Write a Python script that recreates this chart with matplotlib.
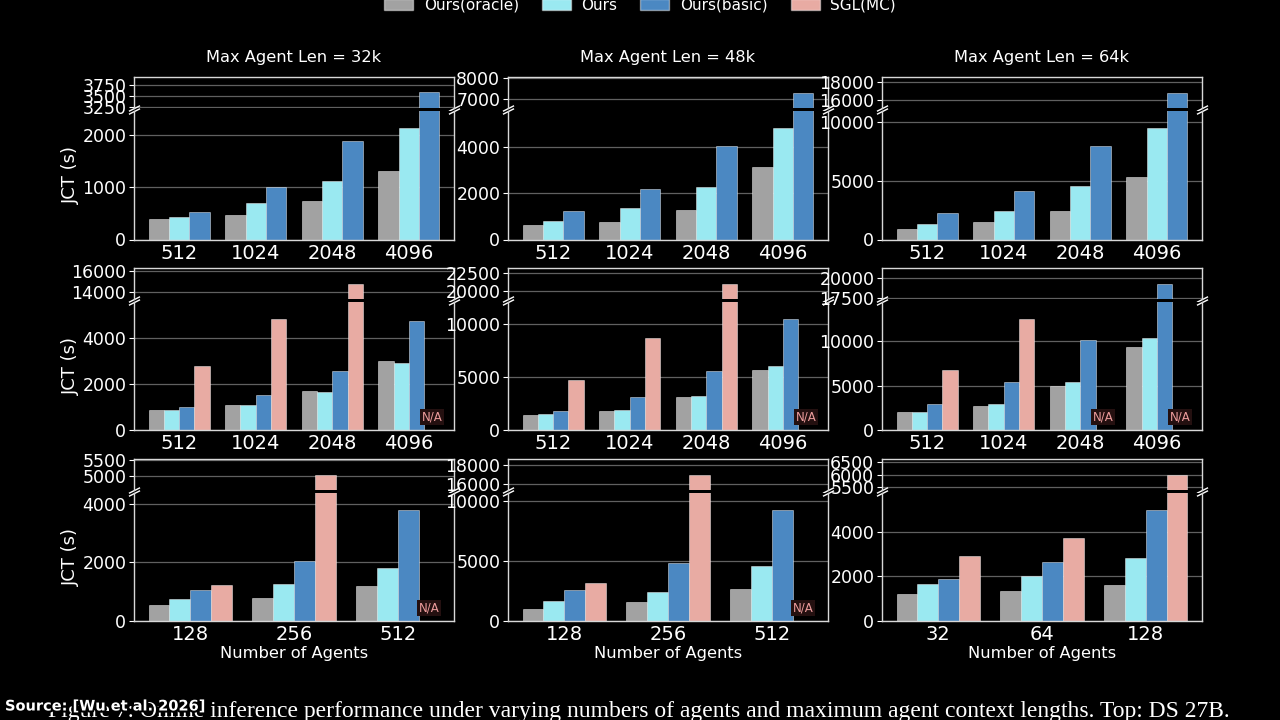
import numpy as np
import matplotlib
matplotlib.use("Agg")
import matplotlib.pyplot as plt
import matplotlib.patheffects as pe
from matplotlib.patches import Patch
from matplotlib.transforms import blended_transform_factory

series = ["Ours(oracle)", "Ours", "Ours(basic)", "SGL(MC)"]
colors = ["#a2a2a2", "#9ae9f1", "#4b88c2", "#e8aba3"]
col_titles = ["Max Agent Len = 32k", "Max Agent Len = 48k", "Max Agent Len = 64k"]

NA = np.nan

# x categories (number of agents)
agents_top = ["512", "1024", "2048", "4096"]
agents_mid = ["512", "1024", "2048", "4096"]
agents_bot_32k = ["128", "256", "512"]
agents_bot_48k = ["128", "256", "512"]
agents_bot_64k = ["32", "64", "128"]

# JCT (s); rows = Ours(oracle), Ours, Ours(basic)[, SGL(MC)]
jct_top_32k = [[390, 460, 740, 1310], [420, 690, 1120, 2130], [520, 1000, 1880, 3580]]
jct_top_48k = [[630, 760, 1260, 3150], [800, 1340, 2280, 4830], [1230, 2190, 4040, 7310]]
jct_top_64k = [[890, 1490, 2440, 5320], [1290, 2440, 4540, 9510], [2240, 4140, 7930, 16850]]

jct_mid_32k = [[880, 1100, 1680, 3020], [880, 1100, 1650, 2900], [990, 1530, 2560, 4730], [2770, 4850, 14850, NA]]
jct_mid_48k = [[1450, 1800, 3060, 5680], [1480, 1890, 3220, 5990], [1830, 3120, 5580, 10470], [4700, 8680, 21050, NA]]
jct_mid_64k = [[2000, 2720, 4980, 9360], [2080, 2980, 5430, 10380], [2910, 5400, 10080, 19330], [6790, 12530, NA, NA]]

jct_bot_32k = [[540, 780, 1190], [760, 1250, 1800], [1040, 2030, 3790], [1240, 5040, NA]]
jct_bot_48k = [[1030, 1560, 2680], [1680, 2430, 4550], [2600, 4860, 9250], [3130, 17000, NA]]
jct_bot_64k = [[1230, 1350, 1620], [1670, 2030, 2830], [1880, 2650, 4980], [2900, 3730, 6000]]

# tick values of the upper (broken) and lower part of each panel
ticks_hi = [[[3250, 3500, 3750], [7000, 8000], [16000, 18000]],
            [[14000, 16000], [20000, 22500], [17500, 20000]],
            [[5000, 5500], [16000, 18000], [5500, 6000, 6500]]]
ticks_lo = [[[0, 1000, 2000], [0, 2000, 4000], [0, 5000, 10000]],
            [[0, 2000, 4000], [0, 5000, 10000], [0, 5000, 10000]],
            [[0, 2000, 4000], [0, 5000, 10000], [0, 2000, 4000]]]

panels = [[(agents_top, jct_top_32k), (agents_top, jct_top_48k), (agents_top, jct_top_64k)],
          [(agents_mid, jct_mid_32k), (agents_mid, jct_mid_48k), (agents_mid, jct_mid_64k)],
          [(agents_bot_32k, jct_bot_32k), (agents_bot_48k, jct_bot_48k), (agents_bot_64k, jct_bot_64k)]]

W, H = 1280, 720
FG = "white"
SPINE = "#d8d8d8"
GRID = "#606060"

plt.rcParams["font.family"] = "DejaVu Sans"
fig = plt.figure(figsize=(12.8, 7.2), dpi=100, facecolor="black")

col_left = [134, 508, 882]
col_w = 320
row_top = [77, 268, 459]
row_bot = [239.5, 430, 621]
hi_h = 31
gap = 3


def px_axes(x0, y0, x1, y1):
    # pixel box (top-left origin) -> figure axes
    return fig.add_axes([x0 / W, 1 - y1 / H, (x1 - x0) / W, (y1 - y0) / H])


def style(ax):
    ax.set_facecolor("black")
    for s in ax.spines.values():
        s.set_color(SPINE)
        s.set_linewidth(1.0)
    ax.tick_params(colors=FG, labelcolor=FG)
    ax.grid(axis="y", color=GRID, lw=0.9)
    ax.set_axisbelow(True)


for r in range(3):
    for c in range(3):
        cats, vals = panels[r][c]
        vals = np.array(vals, dtype=float)
        n = len(vals)
        x = np.arange(len(cats))
        w = 0.8 / n

        y_hi0 = row_top[r]
        y_hi1 = row_top[r] + hi_h
        y_lo0 = y_hi1 + gap
        ax_hi = px_axes(col_left[c], y_hi0, col_left[c] + col_w, y_hi1)
        ax_lo = px_axes(col_left[c], y_lo0, col_left[c] + col_w, row_bot[r])
        style(ax_hi)
        style(ax_lo)

        for i in range(n):
            off = (i - (n - 1) / 2) * w
            for ax in (ax_hi, ax_lo):
                ax.bar(x + off, np.nan_to_num(vals[i]), w, color=colors[i],
                       edgecolor=(1, 1, 1, 0.45), linewidth=0.7)
            # missing runs
            for j in range(len(cats)):
                if np.isnan(vals[i][j]):
                    tr = blended_transform_factory(ax_lo.transData, ax_lo.transAxes)
                    ax_lo.text(x[j] + off, 0.1, "N/A", transform=tr, ha="center", va="center",
                               color="#ec9c9c", fontsize=8.5,
                               bbox=dict(boxstyle="square,pad=0.15", fc="#241010", ec="none"))

        flat = np.sort(vals[~np.isnan(vals)])
        vmax, second = flat[-1], flat[-2]
        ax_hi.set_ylim(vmax * 0.9, vmax * 1.1)
        ax_lo.set_ylim(0, second * 1.15)
        ax_hi.set_yticks(ticks_hi[r][c])
        ax_lo.set_yticks(ticks_lo[r][c])
        ax_hi.tick_params(axis="y", labelsize=12.5, pad=2)
        ax_lo.tick_params(axis="y", labelsize=12.5, pad=2)

        ax_hi.spines["bottom"].set_visible(False)
        ax_lo.spines["top"].set_visible(False)
        ax_hi.tick_params(axis="x", bottom=False, labelbottom=False)
        ax_lo.set_xticks(x)
        ax_lo.set_xticklabels(cats, fontsize=14)
        ax_lo.tick_params(axis="x", length=0, pad=3)
        ax_hi.set_xlim(ax_lo.get_xlim())

        # break marks
        d = .5
        kw = dict(marker=[(-1, -d), (1, d)], markersize=8, linestyle="none",
                  color=FG, mec=FG, mew=1, clip_on=False)
        ax_hi.plot([0, 1], [0, 0], transform=ax_hi.transAxes, **kw)
        ax_lo.plot([0, 1], [1, 1], transform=ax_lo.transAxes, **kw)

        if r == 0:
            ax_hi.set_title(col_titles[c], color=FG, fontsize=11.7, pad=11)
        if c == 0:
            ax_lo.set_ylabel("JCT (s)", color=FG, fontsize=13)
            ax_lo.yaxis.set_label_coords(-0.168, 0.5)
        if r == 2:
            ax_lo.set_xlabel("Number of Agents", color=FG, fontsize=11.7, labelpad=1)

handles = [Patch(facecolor=colors[i], edgecolor=(1, 1, 1, 0.45), label=series[i]) for i in range(4)]
fig.legend(handles=handles, loc="center", bbox_to_anchor=(0.5, 1 - 5 / H), ncol=4,
           frameon=False, fontsize=11, labelcolor=FG, handlelength=1.9, handletextpad=0.7,
           columnspacing=1.5)

fig.text(639 / W, 1 - 711 / H,
         "Figure 7: Online inference performance under varying numbers of agents and maximum agent context lengths. Top: DS 27B.",
         ha="center", va="center", color=FG, fontsize=17, family="Liberation Serif")
fig.text(5 / W, 1 - 706 / H, "Source: [Wu et al. 2026]", ha="left", va="center", color=FG,
         fontsize=10.5, fontweight="bold",
         path_effects=[pe.withStroke(linewidth=3, foreground="black")])

fig.savefig("out.png", dpi=100, facecolor="black")
